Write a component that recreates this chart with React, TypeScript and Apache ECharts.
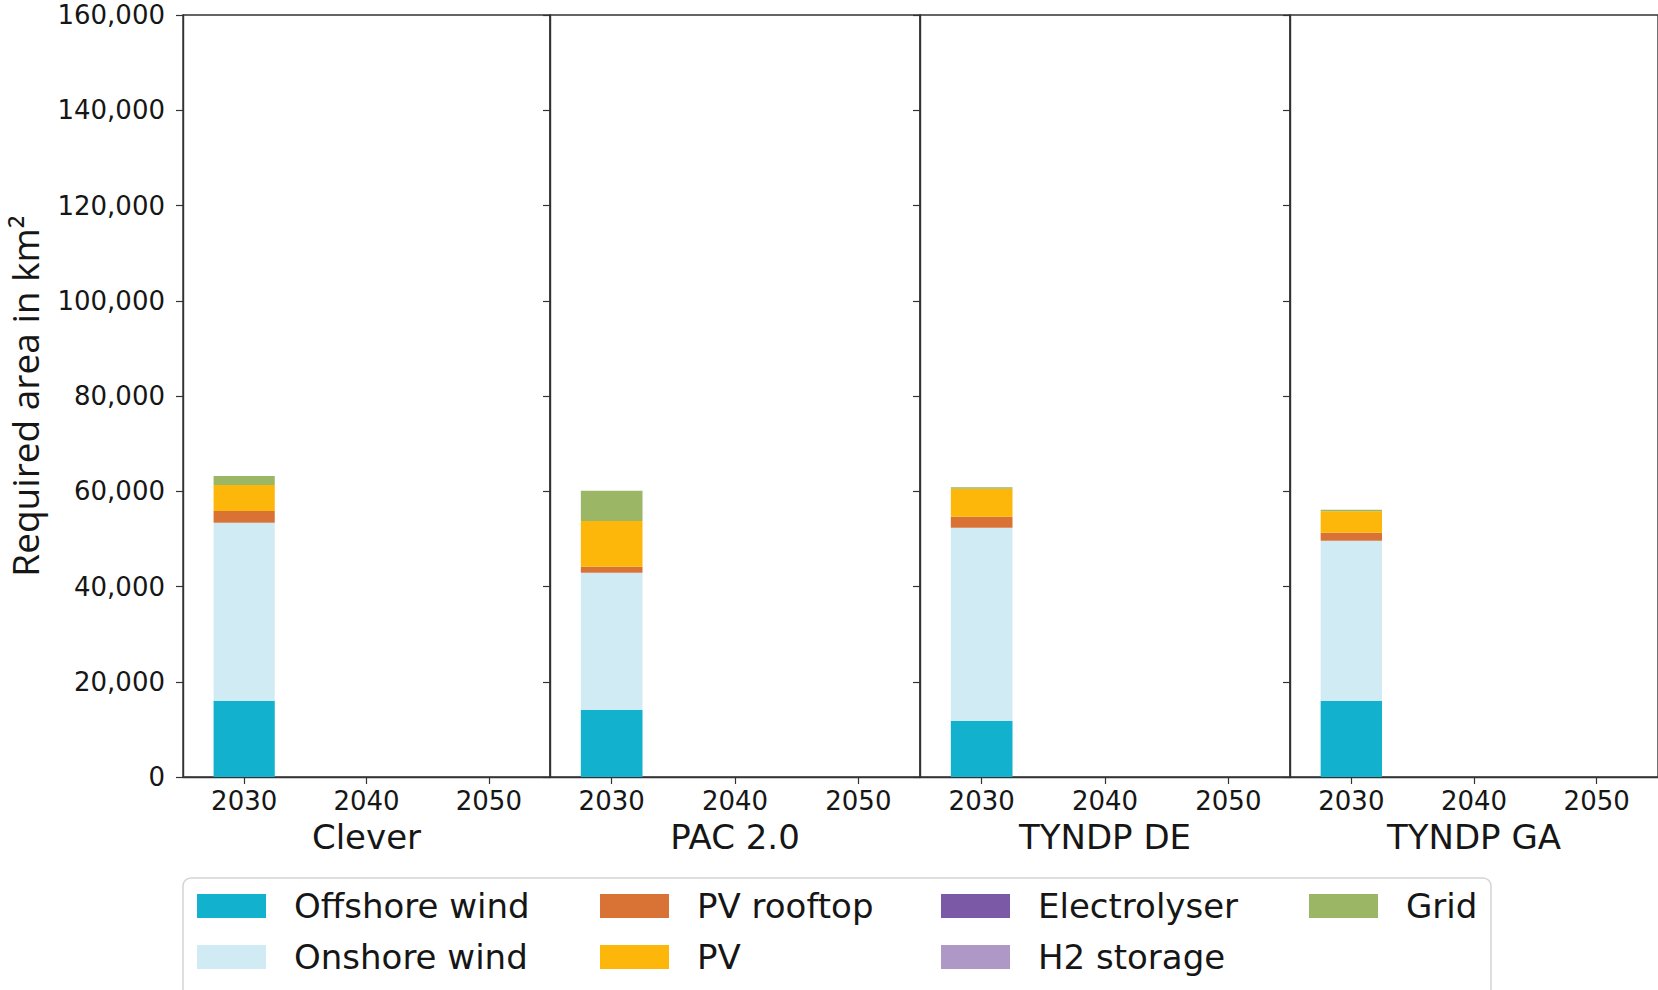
import React, { useEffect, useRef } from "react";
import * as echarts from "echarts";

// Scenarios (one panel each) and the years on each panel's x axis
const scenarios = ["Clever", "PAC 2.0", "TYNDP DE", "TYNDP GA"];
const years = ["2030", "2040", "2050"];

// Required area in km² for 2030, per scenario (2040 and 2050 have no values)
const offshoreWind = [16000, 14100, 11800, 16000];
const onshoreWind = [37400, 28800, 40550, 33600];
const pvRooftop = [2450, 1250, 2300, 1700];
const pv = [5450, 9600, 5900, 4500];
const electrolyser = [0, 0, 0, 0];
const h2Storage = [0, 0, 0, 0];
const grid = [1900, 6350, 300, 300];

const yTicks = [0, 20000, 40000, 60000, 80000, 100000, 120000, 140000, 160000];

const techNames = [
  "Offshore wind",
  "Onshore wind",
  "PV rooftop",
  "PV",
  "Electrolyser",
  "H2 storage",
  "Grid",
];
const techValues = [offshoreWind, onshoreWind, pvRooftop, pv, electrolyser, h2Storage, grid];
const techColors = ["#12B1CD", "#D0EBF3", "#D97335", "#FDB60A", "#7B59A6", "#AE98C6", "#9BB665"];

// Legend columns, top to bottom
const legendColumns = [
  ["Offshore wind", "Onshore wind"],
  ["PV rooftop", "PV"],
  ["Electrolyser", "H2 storage"],
  ["Grid"],
];

const FONT = "DejaVu Sans";
const INK = "#161616";
const SPINE = "#333333";

const panelLeft = [183, 550, 920, 1290];
const panelWidth = [367, 370, 370, 370];
const panelTop = 15;
const panelHeight = 762;
const legendColX = [197, 600, 941, 1309];

export default function App() {
  const ref = useRef<HTMLDivElement>(null);

  useEffect(() => {
    if (!ref.current) return;
    const chart = echarts.init(ref.current, null, { renderer: "svg" });

    const grids = scenarios.map((_, i) => ({
      left: panelLeft[i],
      top: panelTop,
      width: panelWidth[i],
      height: panelHeight,
      show: true,
      borderColor: SPINE,
      borderWidth: 1.4,
      backgroundColor: "transparent",
    }));

    const xAxes = scenarios.map((name, i) => ({
      type: "category" as const,
      gridIndex: i,
      data: years,
      axisLine: { show: true, lineStyle: { color: SPINE, width: 1.4 } },
      axisTick: { show: true, alignWithLabel: true, length: 7, lineStyle: { color: SPINE, width: 1.2 } },
      axisLabel: { fontSize: 26, fontFamily: FONT, color: INK, margin: 11 },
      name,
      nameLocation: "middle" as const,
      nameGap: 43,
      nameTextStyle: { fontSize: 34, fontFamily: FONT, color: INK },
    }));

    const yAxes = scenarios.map((_, i) => ({
      type: "value" as const,
      gridIndex: i,
      min: yTicks[0],
      max: yTicks[yTicks.length - 1],
      interval: yTicks[1] - yTicks[0],
      axisLine: { show: true, lineStyle: { color: SPINE, width: 1.4 } },
      axisTick: { show: true, length: 7, lineStyle: { color: SPINE, width: 1.2 } },
      axisLabel: {
        show: i === 0,
        fontSize: 26,
        fontFamily: FONT,
        color: INK,
        margin: 18,
        formatter: (v: number) => v.toLocaleString("en-US"),
      },
      splitLine: { show: false },
      name: i === 0 ? "Required area in km²" : "",
      nameLocation: "middle" as const,
      nameRotate: 90,
      nameGap: 140,
      nameTextStyle: { fontSize: 37, fontFamily: "Open Sans", color: INK },
    }));

    const series: any[] = [];
    scenarios.forEach((_, i) => {
      techNames.forEach((tech, k) => {
        const v = techValues[k][i];
        series.push({
          type: "bar",
          name: tech,
          stack: "panel" + i,
          xAxisIndex: i,
          yAxisIndex: i,
          barWidth: "50%",
          data: [v > 0 ? v : null, null, null],
          itemStyle: { color: techColors[k] },
          emphasis: { disabled: true },
        });
      });
    });

    const legends = legendColumns.map((names, c) => ({
      data: names,
      orient: "vertical" as const,
      left: legendColX[c],
      top: 889,
      padding: 0,
      icon: "rect",
      itemWidth: 69,
      itemHeight: 24,
      itemGap: 17,
      selectedMode: false,
      textStyle: { fontSize: 34, fontFamily: FONT, color: INK, padding: [0, 0, 0, 23] },
    }));

    chart.setOption({
      animation: false,
      backgroundColor: "#ffffff",
      grid: grids,
      xAxis: xAxes,
      yAxis: yAxes,
      legend: legends,
      series,
      graphic: [
        {
          type: "rect",
          shape: { x: 183, y: 878, width: 1308, height: 150, r: 8 },
          style: { fill: "none", stroke: "#d4d4d4", lineWidth: 1.5 },
          silent: true,
        },
      ],
    });

    return () => chart.dispose();
  }, []);

  return (
    <div
      ref={ref}
      style={{ position: "absolute", left: 0, top: 0, width: 1658, height: 990, background: "#fff" }}
    />
  );
}
